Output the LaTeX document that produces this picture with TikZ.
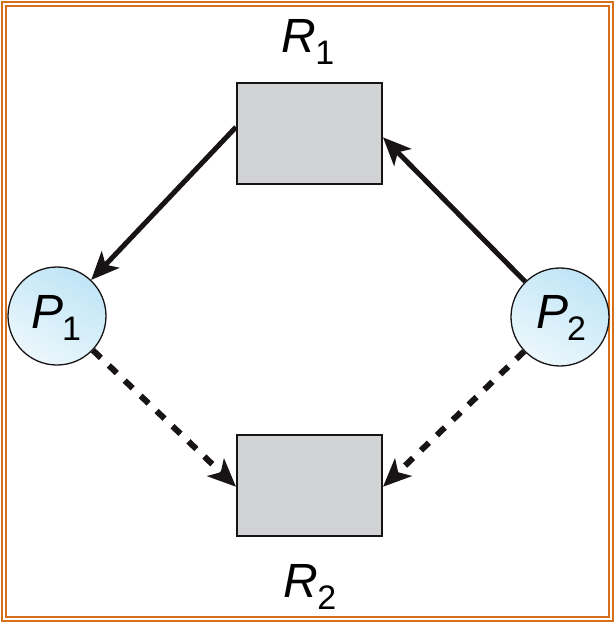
\documentclass[tikz,border=0pt]{standalone}
\usepackage{fontspec}
\setmainfont{Liberation Sans}
\usetikzlibrary{arrows.meta,shadings}
\definecolor{frameorange}{RGB}{212,112,28}
\definecolor{boxgray}{RGB}{209,211,212}
\definecolor{inkdark}{RGB}{24,20,21}
\definecolor{circblue}{RGB}{192,229,246}
\definecolor{circlight}{RGB}{235,247,252}
\newcommand{\mylbl}[2]{{\fontsize{48}{48}\selectfont\itshape #1}\kern-1pt\raisebox{-12pt}{\fontsize{34}{34}\selectfont #2}}
\tikzset{
  resbox/.style={draw=inkdark, line width=2pt, fill=boxgray, minimum width=145pt, minimum height=101pt, inner sep=0pt},
  proc/.style={circle, draw=inkdark, line width=1.3pt, minimum size=98pt, inner sep=0pt, top color=circblue, bottom color=circlight, shading angle=-30},
  lbl/.style={anchor=base, inner sep=0pt},
  solidarrow/.style={draw=inkdark, line width=5pt, -{Stealth[length=28pt,width=24pt,inset=7pt]}},
  dasharrow/.style={draw=inkdark, line width=6pt, dash pattern=on 11pt off 11pt, -{Stealth[length=28pt,width=24pt,inset=7pt]}},
  frameline/.style={draw=frameorange, line width=2pt}
}
\begin{document}
\begin{tikzpicture}[x=1pt,y=-1pt]
\useasboundingbox (0,0) rectangle (615,623);
\draw[frameline] (2,2) rectangle (613,621);
\draw[frameline] (6,6) rectangle (609,617);
\node[resbox] (R1) at (309.5,133.5) {};
\node[resbox] (R2) at (309.5,485.5) {};
\node[proc] (P1) at (57,316) {};
\node[proc] (P2) at (560,317) {};
\node[lbl] (R1l) at (308,53) {\mylbl{R}{1}};
\node[lbl] (R2l) at (310,597) {\mylbl{R}{2}};
\node[lbl] (P1l) at (56,328) {\mylbl{P}{1}};
\node[lbl] (P2l) at (561,328) {\mylbl{P}{2}};
\draw[solidarrow] (R1.175) -- (P1);
\draw[solidarrow] (P2) -- (R1.-3);
\draw[dasharrow] (P1) -- (R2.181);
\draw[dasharrow] (P2) -- (R2.-1);
\end{tikzpicture}
\end{document}
